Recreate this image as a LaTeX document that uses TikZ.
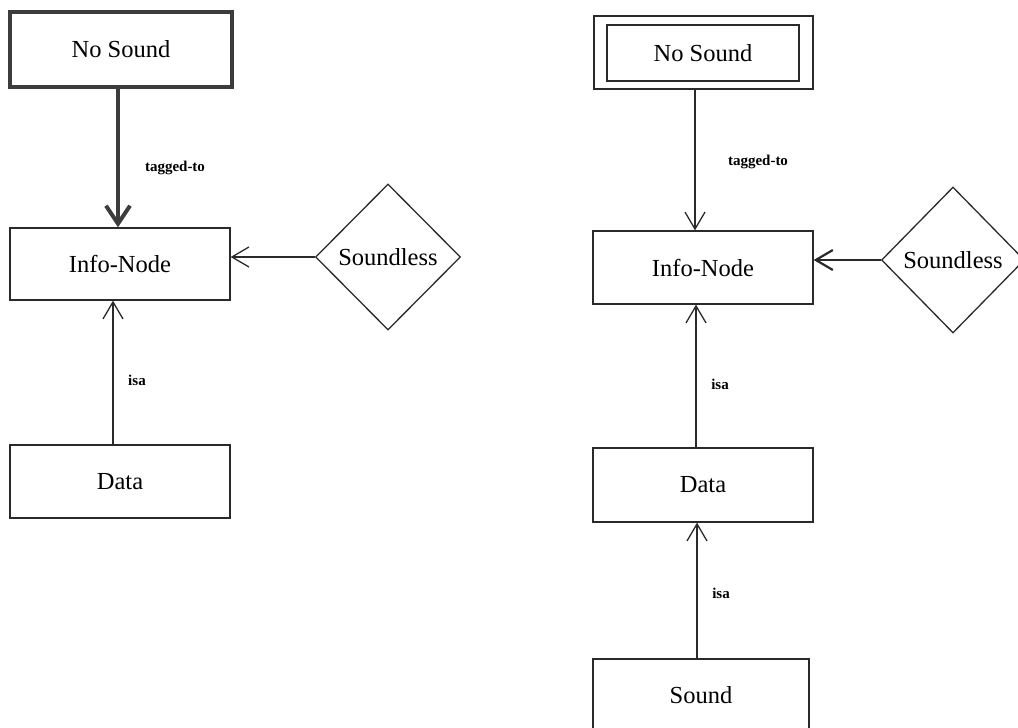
\documentclass[tikz,border=0pt]{standalone}
\usepackage{fontspec}
\setmainfont{Liberation Serif}
\usetikzlibrary{arrows.meta,shapes.geometric}
\definecolor{ink}{HTML}{2A2A2A}
\definecolor{heavy}{HTML}{3C3C3C}
\tikzset{
  box/.style={draw=ink, line width=1.3pt, rectangle, inner sep=0pt,
    font=\fontsize{24.5}{28}\selectfont},
  heavybox/.style={box, draw=heavy, line width=4pt},
  decision/.style={draw=ink, line width=1.3pt, diamond, inner sep=0pt,
    font=\fontsize{24.5}{28}\selectfont},
  link/.style={draw=ink, line width=1.3pt, -{Straight Barb[length=17pt,width=20pt]}},
  heavylink/.style={draw=heavy, line width=4pt, -{Straight Barb[length=18pt,width=24pt]}},
  boldlink/.style={link, line width=2.2pt},
  rel/.style={font=\bfseries\fontsize{15}{17}\selectfont, inner sep=0pt},
}
\begin{document}
\begin{tikzpicture}[x=1pt,y=-1pt]
  \useasboundingbox (0,0) rectangle (1018,728);
  \clip (0,0) rectangle (1018,728);
  \fill[white] (0,0) rectangle (1018,728);

  % left diagram
  \node[heavybox, minimum width=222pt, minimum height=75pt] (ns1) at (121,49.5) {No Sound};
  \node[box, minimum width=220pt, minimum height=72pt] (info1) at (120,264) {Info-Node};
  \node[box, minimum width=220pt, minimum height=73pt] (data1) at (120,481.5) {Data};
  \node[decision, minimum width=145pt, minimum height=146pt] (dia1) at (388,257) {Soundless};

  \draw[heavylink] ([xshift=-3pt]ns1.south) -- ([xshift=-2pt]info1.north);
  \draw[link] (dia1.west) -- (dia1.west -| info1.east);
  \draw[link] ([xshift=-7pt]data1.north) -- ([xshift=-7pt]info1.south);
  \node[rel] (tag1) at (175,168) {tagged-to};
  \node[rel] (isa1) at (137,380) {isa};

  % right diagram
  \node[box, minimum width=219pt, minimum height=73pt] (ns2) at (703.5,52.5) {};
  \node[box, minimum width=192pt, minimum height=56pt] (ns2i) at (703,53) {No Sound};
  \node[box, minimum width=220pt, minimum height=73pt] (info2) at (703,267.5) {Info-Node};
  \node[box, minimum width=220pt, minimum height=74pt] (data2) at (703,485) {Data};
  \node[box, minimum width=216pt, minimum height=72pt] (sound2) at (701,695) {Sound};
  \node[decision, minimum width=143pt, minimum height=146pt] (dia2) at (953,260) {Soundless};

  \draw[link] ([xshift=-8.5pt]ns2.south) -- ([xshift=-8pt]info2.north);
  \draw[boldlink] (dia2.west) -- (dia2.west -| info2.east);
  \draw[link] ([xshift=-7pt]data2.north) -- ([xshift=-7pt]info2.south);
  \draw[link] ([xshift=-4pt]sound2.north) -- ([xshift=-6pt]data2.south);
  \node[rel] (tag2) at (758,162) {tagged-to};
  \node[rel] (isa2) at (720,384) {isa};
  \node[rel] (isa3) at (721,593) {isa};
\end{tikzpicture}
\end{document}
